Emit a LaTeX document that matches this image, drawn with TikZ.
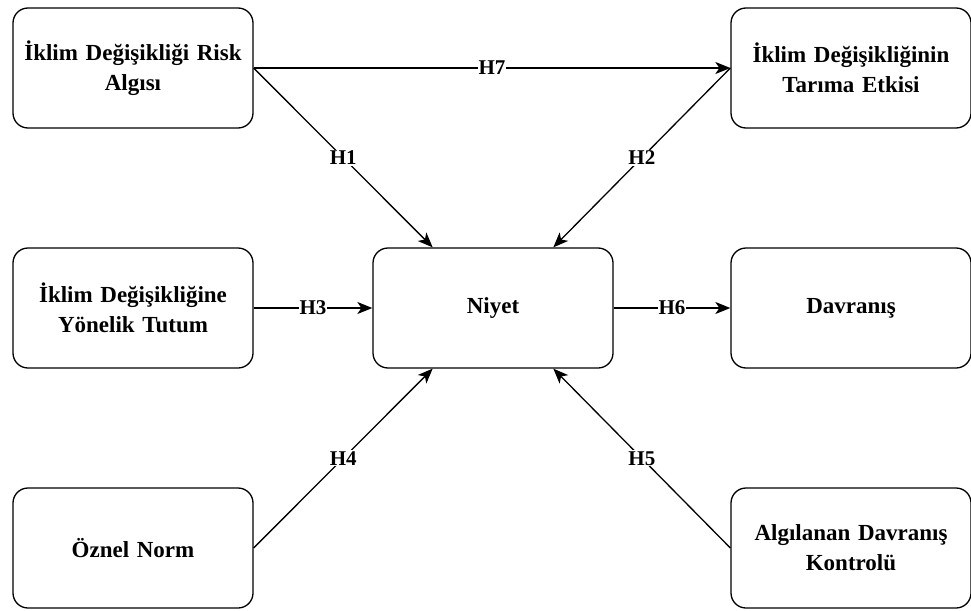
\documentclass[tikz,border=0pt]{standalone}
\usepackage{fontspec}
\setmainfont{Liberation Serif}
\usetikzlibrary{arrows.meta}
\usetikzlibrary{calc}
\tikzset{
  box/.style={draw, line width=1.3pt, rounded corners=15pt, minimum width=240pt, minimum height=120pt,
    text width=230pt, align=center, font=\fontsize{23}{30}\selectfont\bfseries},
  link/.style={line width=1.3pt, -{Stealth[length=15pt, width=12pt, inset=4pt]}},
  hlab/.style={midway, fill=white, inner sep=1pt, font=\fontsize{21}{22}\selectfont\bfseries},
}
\begin{document}
\begin{tikzpicture}[x=1pt, y=-1pt]
\useasboundingbox (0,0) rectangle (971,610);
\node[box] (risk) at (133,68) {İklim Değişikliği Risk\\Algısı};
\node[box] (etki) at (851,68) {İklim Değişikliğinin\\Tarıma Etkisi};
\node[box] (tutum) at (133,308) {İklim Değişikliğine\\Yönelik Tutum};
\node[box] (niyet) at (493,308) {Niyet};
\node[box] (davranis) at (851,308) {Davranış};
\node[box] (norm) at (133,548) {Öznel Norm};
\node[box] (kontrol) at (851,548) {Algılanan Davranış\\Kontrolü};
\coordinate (n1) at ($(niyet.north west)!0.25!(niyet.north east)$);
\coordinate (n2) at ($(niyet.north west)!0.75!(niyet.north east)$);
\coordinate (s1) at ($(niyet.south west)!0.25!(niyet.south east)$);
\coordinate (s2) at ($(niyet.south west)!0.75!(niyet.south east)$);
\draw[link] (risk.east) -- (etki.west) node[hlab] {H7};
\draw[link] (risk.east) -- (n1) node[hlab] {H1};
\draw[link] (etki.west) -- (n2) node[hlab] {H2};
\draw[link] (tutum.east) -- (niyet.west) node[hlab] {H3};
\draw[link] (niyet.east) -- (davranis.west) node[hlab] {H6};
\draw[link] (norm.east) -- (s1) node[hlab] {H4};
\draw[link] (kontrol.west) -- (s2) node[hlab] {H5};
\end{tikzpicture}
\end{document}
